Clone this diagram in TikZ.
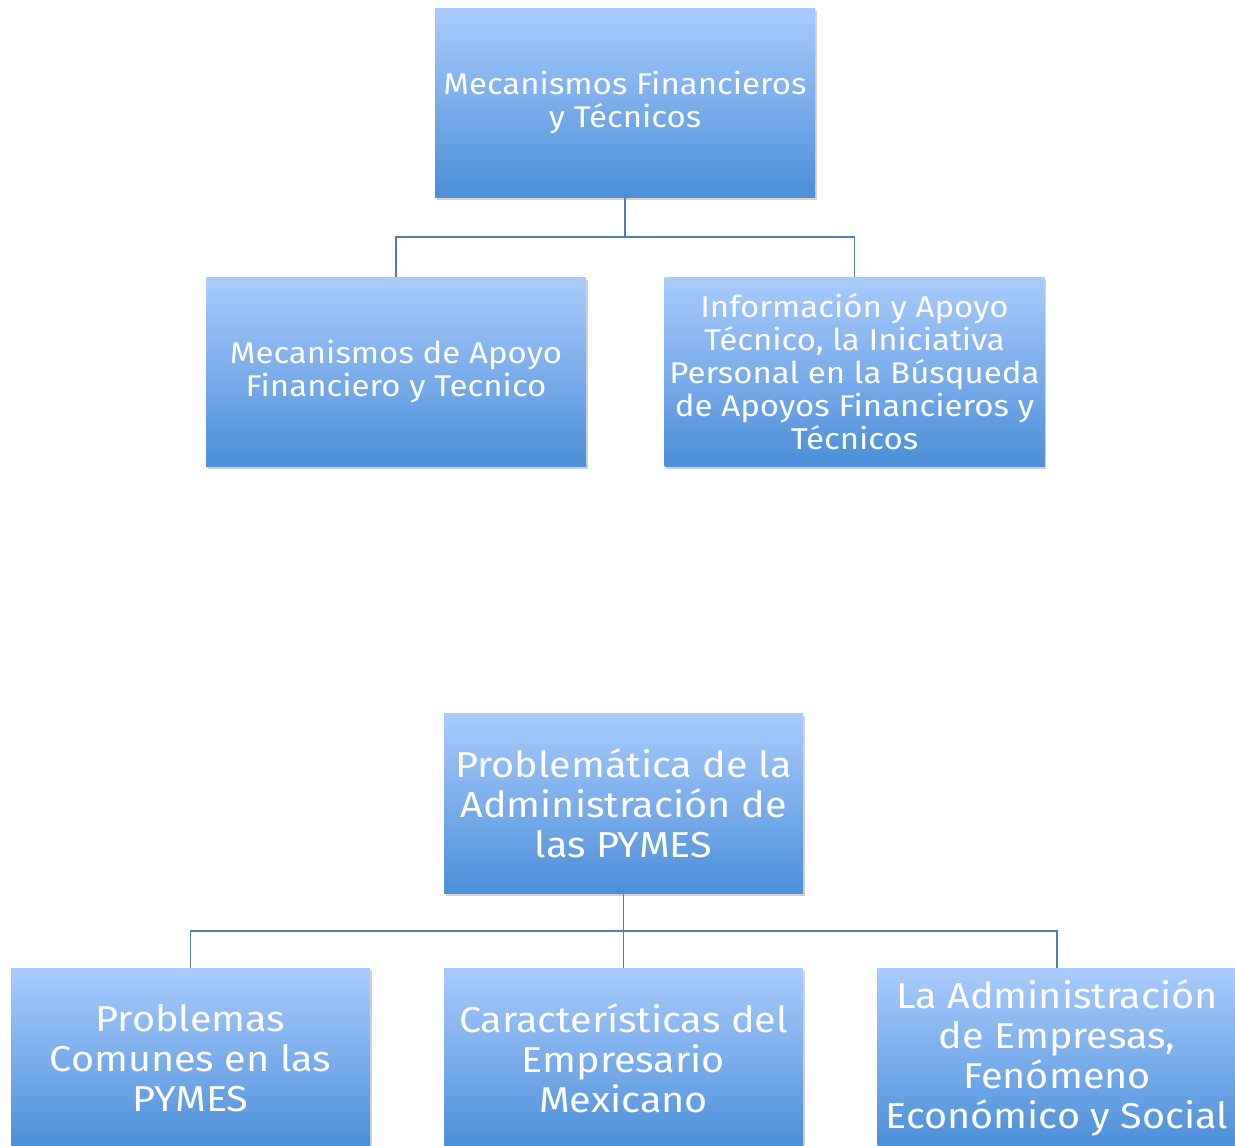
\documentclass[tikz,border=0pt]{standalone}
\usepackage{fontspec}
\setmainfont{Fira Sans}[FakeStretch=1.1]
\usetikzlibrary{shadows}
\definecolor{boxtop}{HTML}{A9CCFD}
\definecolor{boxbot}{HTML}{4B8FD8}
\definecolor{linkblue}{HTML}{4F7FAF}
\tikzset{
  topic/.style={rectangle, top color=boxtop, bottom color=boxbot, draw=none, text=white, align=center, inner sep=0pt,
    drop shadow={opacity=0.35, shadow xshift=1.5pt, shadow yshift=-2.5pt}},
  small/.style={topic, minimum width=380pt, minimum height=189pt, font=\fontsize{30}{33}\selectfont},
  large/.style={topic, minimum width=359pt, minimum height=180pt, font=\fontsize{36}{40}\selectfont},
  link/.style={linkblue, line width=1.5pt}
}

\begin{document}
\begin{tikzpicture}[x=1pt, y=-1pt]
  \useasboundingbox (0,0) rectangle (1235,1146);
  \clip (0,0) rectangle (1235,1146);
  % upper chart
  \node[small] (mecanismos) at (625,102.5) {Mecanismos Financieros\\y Técnicos};
  \node[small] (apoyo) at (396,371.5) {Mecanismos de Apoyo\\Financiero y Tecnico};
  \node[small] (informacion) at (854.5,371.5) {Información y Apoyo\\Técnico, la Iniciativa\\Personal en la Búsqueda\\de Apoyos Financieros y\\Técnicos};
  \draw[link] (mecanismos.south) -- ++(0,40) -| (apoyo.north);
  \draw[link] (mecanismos.south) -- ++(0,40) -| (informacion.north);
  % lower chart
  \node[large] (problematica) at (623.5,803.5) {Problemática de la\\Administración de\\las PYMES};
  \node[large] (problemas) at (190.5,1058) {Problemas\\Comunes en las\\PYMES};
  \node[large] (caracteristicas) at (623.5,1058) {Características del\\Empresario\\Mexicano};
  \node[large] (administracion) at (1057,1058) {La Administración\\de Empresas,\\Fenómeno\\Económico y Social};
  \draw[link] (problematica.south) -- ++(0,37.5) -| (problemas.north);
  \draw[link] (problematica.south) -- (caracteristicas.north);
  \draw[link] (problematica.south) -- ++(0,37.5) -| (administracion.north);
\end{tikzpicture}
\end{document}
